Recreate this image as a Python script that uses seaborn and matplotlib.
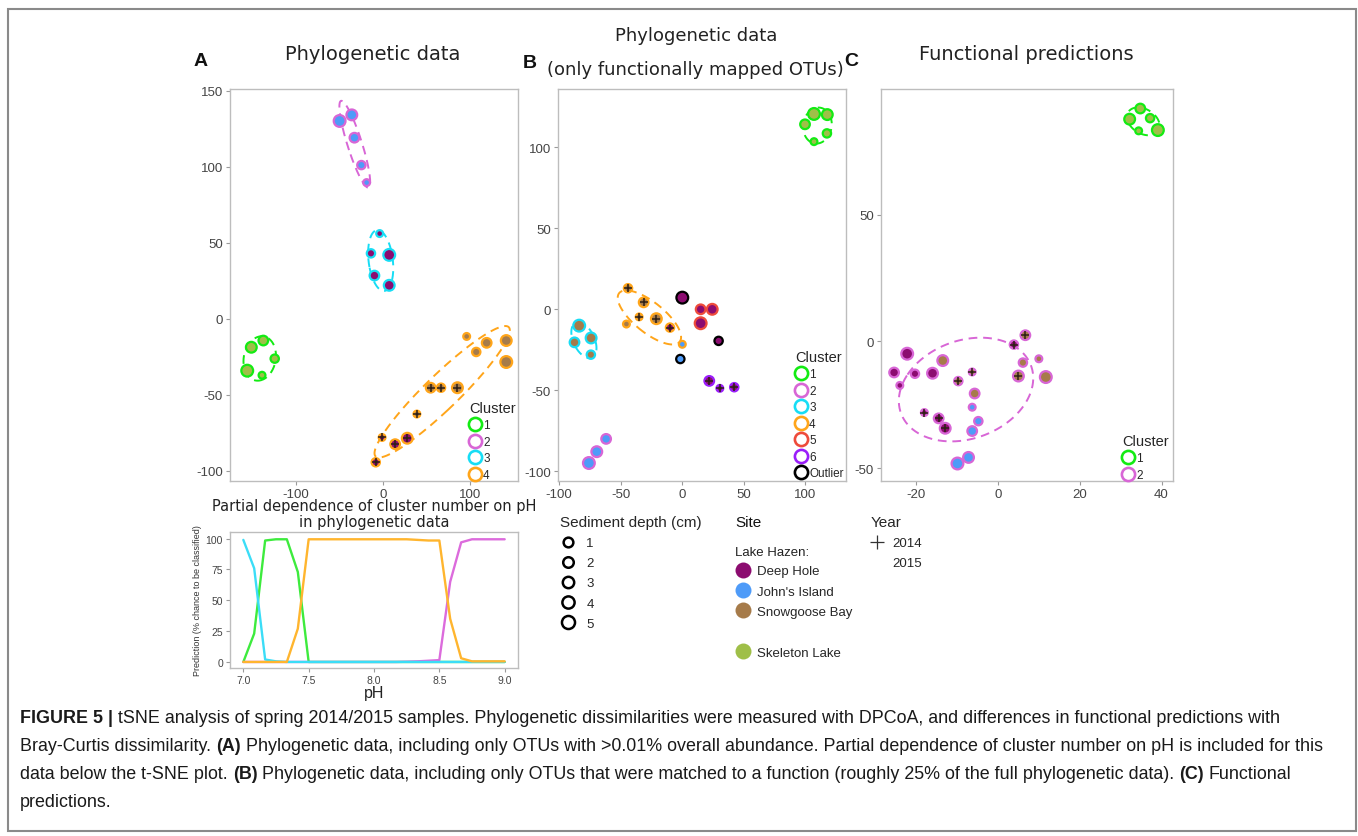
import numpy as np
import pandas as pd
import matplotlib
matplotlib.use("Agg")
import matplotlib.pyplot as plt
import seaborn as sns
from matplotlib.lines import Line2D
from matplotlib.patches import Rectangle

# ---- panel A: t-SNE on phylogenetic data ----
a_x = [-50, -36, -33, -25, -19,
       -4, -14, 7, -10, 7,
       -151.5, -137.7, -124.6, -156.2, -139.2,
       96, 107, 119, 141.5, 141.5,
       54.6, 66.5, 85.4, 38.8,
       -1.2, 13.8, 27.7, -8.5]
a_y = [130, 134, 119, 101, 89.5,
       56, 43, 42, 28.4, 22,
       -18.7, -14.3, -26.2, -34.1, -37.1,
       -11.6, -21.8, -15.8, -14.3, -28.4,
       -45.3, -45.3, -45.3, -62.6,
       -78, -82.4, -78.5, -94.3]
a_cluster = ["2", "2", "2", "2", "2",
             "3", "3", "3", "3", "3",
             "1", "1", "1", "1", "1",
             "4", "4", "4", "4", "4",
             "4", "4", "4", "4",
             "4", "4", "4", "4"]
a_site = ["JI", "JI", "JI", "JI", "JI",
          "DH", "DH", "DH", "DH", "DH",
          "SL", "SL", "SL", "SL", "SL",
          "SB", "SB", "SB", "SB", "SB",
          "SB", "SB", "SB", "SB",
          "DH", "DH", "DH", "DH"]
a_depth = [5, 4, 3, 2, 1,
           1, 2, 5, 3, 4,
           4, 3, 2, 5, 1,
           1, 2, 3, 4, 5,
           3, 2, 4, 1,
           1, 3, 4, 2]
a_year = [2015, 2015, 2015, 2015, 2015,
          2015, 2015, 2015, 2015, 2015,
          2015, 2015, 2015, 2015, 2015,
          2015, 2015, 2015, 2015, 2015,
          2014, 2014, 2014, 2014,
          2014, 2014, 2014, 2014]

# ---- panel B: only functionally mapped OTUs ----
b_x = [99.7, 107, 117.8, 117.5, 107,
       -83.8, -87.6, -74.1, -74.3,
       -44.1, -31.4, -35.1, -21.1,
       -45.4, -10, 0,
       0, 29.5, -1.6,
       14.9, 24.3, 14.9,
       21.9, 30.5, 42.2,
       -75.9, -69.5, -61.9]
b_y = [114.2, 120.6, 120.2, 108.6, 103.5,
       -10.1, -20.4, -17.7, -28,
       13, 4.3, -4.7, -5.8,
       -9.1, -11.3, -21.6,
       7.2, -19.5, -30.7,
       0, 0, -8.6,
       -44.2, -48.8, -48.1,
       -94.9, -87.9, -80]
b_cluster = ["1", "1", "1", "1", "1",
             "3", "3", "3", "3",
             "4", "4", "4", "4",
             "4", "4", "4",
             "O", "O", "O",
             "5", "5", "5",
             "6", "6", "6",
             "2", "2", "2"]
b_site = ["SL", "SL", "SL", "SL", "SL",
          "SB", "SB", "SB", "SB",
          "SB", "SB", "SB", "SB",
          "SB", "DH", "JI",
          "DH", "DH", "JI",
          "DH", "DH", "DH",
          "DH", "DH", "DH",
          "JI", "JI", "JI"]
b_depth = [3, 5, 4, 2, 1,
           5, 3, 4, 2,
           2, 3, 1, 4,
           1, 2, 1,
           5, 2, 2,
           3, 4, 5,
           3, 1, 2,
           5, 4, 3]
b_year = [2015, 2015, 2015, 2015, 2015,
          2015, 2015, 2015, 2015,
          2014, 2014, 2014, 2014,
          2015, 2014, 2015,
          2015, 2015, 2015,
          2015, 2015, 2015,
          2014, 2014, 2014,
          2015, 2015, 2015]

# ---- panel C: functional predictions ----
c_x = [32.2, 34.8, 37.2, 34.4, 39.1,
       -22.2, -25.4, -20.3, -16, -24,
       -13.5, -5.7, 6.1, 10, 11.7,
       6.7, -6.3, -9.7, 5.0,
       3.9, -18, -14.5, -12.9,
       -6.3, -4.8, -6.3, -7.2, -9.9]
c_y = [87.6, 91.8, 88, 83, 83.3,
       -4.9, -12.3, -12.8, -12.6, -17.4,
       -7.6, -20.6, -8.4, -6.9, -14.1,
       2.4, -12.1, -15.7, -13.7,
       -1.3, -28.1, -30.4, -34.3,
       -26, -31.5, -35.4, -45.8, -48.2]
c_cluster = ["1", "1", "1", "1", "1",
             "2", "2", "2", "2", "2",
             "2", "2", "2", "2", "2",
             "2", "2", "2", "2",
             "2", "2", "2", "2",
             "2", "2", "2", "2", "2"]
c_site = ["SL", "SL", "SL", "SL", "SL",
          "DH", "DH", "DH", "DH", "DH",
          "SB", "SB", "SB", "SB", "SB",
          "SB", "SB", "SB", "SB",
          "DH", "DH", "DH", "DH",
          "JI", "JI", "JI", "JI", "JI"]
c_depth = [4, 3, 2, 1, 5,
           5, 3, 2, 4, 1,
           4, 3, 2, 1, 5,
           3, 1, 2, 4,
           2, 1, 3, 4,
           1, 2, 3, 4, 5]
c_year = [2015, 2015, 2015, 2015, 2015,
          2015, 2015, 2015, 2015, 2015,
          2015, 2015, 2015, 2015, 2015,
          2014, 2014, 2014, 2014,
          2014, 2014, 2014, 2014,
          2015, 2015, 2015, 2015, 2015]

# ---- partial dependence of cluster on pH ----
ph = [7.0, 7.083, 7.167, 7.25, 7.333, 7.417, 7.5, 7.583, 7.667, 7.75, 7.833, 7.917, 8.0,
      8.083, 8.167, 8.25, 8.333, 8.417, 8.5, 8.583, 8.667, 8.75, 8.833, 8.917, 9.0]
pd_c1 = [0, 23, 98.5, 99.5, 99.5, 73, 0, 0, 0, 0, 0, 0, 0, 0, 0, 0, 0, 0, 0, 0, 0, 0, 0, 0, 0]
pd_c2 = [0, 0, 0, 0, 0, 0, 0, 0, 0, 0, 0, 0, 0, 0, 0, 0.2, 0.5, 1, 1.5, 65, 97, 99.5, 99.5, 99.5, 99.5]
pd_c3 = [99, 76, 2, 0.5, 0, 0, 0, 0, 0, 0, 0, 0, 0, 0, 0, 0, 0, 0, 0, 0, 0, 0, 0, 0, 0]
pd_c4 = [0, 0, 0, 0, 0, 27, 99.5, 99.5, 99.5, 99.5, 99.5, 99.5, 99.5, 99.5, 99.5, 99.5, 99,
         98.5, 98.5, 35, 3, 0.5, 0.5, 0.5, 0.5]

site_names = {"DH": "Deep Hole", "JI": "John's Island", "SB": "Snowgoose Bay", "SL": "Skeleton Lake"}
SITE_COLORS = {"DH": "#8C0C70", "JI": "#4E9BF8", "SB": "#A67B4A", "SL": "#9FBF48"}
CLUSTER_COLORS = {"1": "#13EB13", "2": "#D866D6", "3": "#17DDF5", "4": "#FFA51A",
                  "5": "#EE4B3B", "6": "#9A1EFA", "O": "#000000"}
PD_COLORS = {"1": "#3DEB3D", "2": "#DC6BDC", "3": "#3BDDF7", "4": "#FFB52E"}

W, H = 1358, 837
sns.set_theme(style="white")
plt.rcParams["font.family"] = ["Liberation Sans", "DejaVu Sans"]
plt.rcParams["axes.unicode_minus"] = False

fig = plt.figure(figsize=(W / 100, H / 100), dpi=100)


def fx(px):
    return px / W


def fy(py):
    return 1 - py / H


def axes_px(left, top, right, bottom):
    return fig.add_axes([fx(left), fy(bottom), (right - left) / W, (bottom - top) / H])


def style_axes(ax, labelsize=9.5):
    for sp in ax.spines.values():
        sp.set_color("#BDBDBD")
        sp.set_linewidth(1.0)
    ax.tick_params(axis="both", which="both", direction="out", length=3, width=0.8,
                   color="#9A9A9A", labelcolor="#444444", labelsize=labelsize, pad=2,
                   bottom=True, left=True)
    ax.grid(False)


def draw_ellipse(ax, x, y, color, scale):
    pts = np.column_stack([x, y])
    center = pts.mean(axis=0)
    vals, vecs = np.linalg.eigh(np.cov(pts, rowvar=False))
    t = np.linspace(0, 2 * np.pi, 200)
    unit = np.column_stack([np.cos(t), np.sin(t)])
    ell = center + scale * unit @ (vecs * np.sqrt(vals)).T
    ax.plot(ell[:, 0], ell[:, 1], color=color, lw=1.4, ls=(0, (4.5, 3)), zorder=2)


def tsne_panel(ax, x, y, cluster, site, depth, year, ell_scale):
    df = pd.DataFrame(dict(x=x, y=y, cluster=cluster, site=site, depth=depth, year=year))
    for cl, grp in df.groupby("cluster", sort=False):
        if len(grp) >= 4 and cl != "O":
            draw_ellipse(ax, grp["x"], grp["y"], CLUSTER_COLORS[cl], ell_scale)
    for cl, grp in df.groupby("cluster", sort=False):
        sns.scatterplot(data=grp, x="x", y="y", hue="site", palette=SITE_COLORS,
                        size="depth", sizes=(24, 72), size_norm=(1, 5),
                        edgecolor=CLUSTER_COLORS[cl], linewidth=1.6, legend=False,
                        ax=ax, zorder=3)
    sns.scatterplot(data=df[df["year"] == 2014], x="x", y="y", marker="+", color="#2E2015",
                    s=34, linewidth=1.1, legend=False, ax=ax, zorder=4)
    ax.set(xlabel="", ylabel="")
    style_axes(ax)


def cluster_legend(ax, labels, left, top):
    handles = [Line2D([], [], ls="none", marker="o", markersize=9.5, markerfacecolor="none",
                      markeredgecolor=CLUSTER_COLORS[k], markeredgewidth=1.9) for k in labels]
    names = ["Outlier" if k == "O" else k for k in labels]
    ax.legend(handles, names, title="Cluster", loc="upper left",
              bbox_to_anchor=(fx(left), fy(top)), bbox_transform=fig.transFigure,
              frameon=False, borderpad=0, borderaxespad=0, handlelength=1.0,
              handletextpad=0.2, labelspacing=0.38, fontsize=8.5, title_fontsize=10.5,
              alignment="left")


# panel A
ax_a = axes_px(230, 90, 518, 482)
tsne_panel(ax_a, a_x, a_y, a_cluster, a_site, a_depth, a_year, 1.5)
ax_a.set_xlim(-176, 155)
ax_a.set_ylim(-106.6, 151)
ax_a.set_xticks([-100, 0, 100])
ax_a.set_yticks([-100, -50, 0, 50, 100, 150])
cluster_legend(ax_a, ["1", "2", "3", "4"], 469, 402)

# panel B
ax_b = axes_px(558, 90, 846, 482)
tsne_panel(ax_b, b_x, b_y, b_cluster, b_site, b_depth, b_year, 1.5)
ax_b.set_xlim(-101, 133)
ax_b.set_ylim(-106, 136)
ax_b.set_xticks([-100, -50, 0, 50, 100])
ax_b.set_yticks([-100, -50, 0, 50, 100])
cluster_legend(ax_b, ["1", "2", "3", "4", "5", "6", "O"], 795, 351)

# panel C
ax_c = axes_px(881, 90, 1173, 482)
tsne_panel(ax_c, c_x, c_y, c_cluster, c_site, c_depth, c_year, 1.5)
ax_c.set_xlim(-28.6, 42.8)
ax_c.set_ylim(-55.1, 99.5)
ax_c.set_xticks([-20, 0, 20, 40])
ax_c.set_yticks([-50, 0, 50])
cluster_legend(ax_c, ["1", "2"], 1122, 435)

# partial dependence panel
ax_p = axes_px(230, 533, 518, 669)
pdf = pd.DataFrame({"pH": ph * 4,
                    "prediction": pd_c1 + pd_c2 + pd_c3 + pd_c4,
                    "cluster": ["1"] * len(ph) + ["2"] * len(ph) + ["3"] * len(ph) + ["4"] * len(ph)})
sns.lineplot(data=pdf, x="pH", y="prediction", hue="cluster", palette=PD_COLORS,
             linewidth=1.7, legend=False, ax=ax_p)
style_axes(ax_p, labelsize=7.5)
ax_p.set_xlim(6.898, 9.102)
ax_p.set_ylim(-4.9, 105.4)
ax_p.set_xticks([7.0, 7.5, 8.0, 8.5, 9.0])
ax_p.set_xticklabels(["7.0", "7.5", "8.0", "8.5", "9.0"])
ax_p.set_yticks([0, 25, 50, 75, 100])
ax_p.set_xlabel("pH", fontsize=11.5, color="#222222", labelpad=0)
ax_p.set_ylabel("Prediction (% chance to be classified)", fontsize=6.5, color="#333333", labelpad=3)

# titles and panel letters
title_kw = dict(family="DejaVu Sans", color="#222222", ha="center", va="center")
fig.text(fx(373), fy(55), "Phylogenetic data", fontsize=14, **title_kw)
fig.text(fx(696), fy(36), "Phylogenetic data", fontsize=13, **title_kw)
fig.text(fx(695), fy(70), "(only functionally mapped OTUs)", fontsize=13, **title_kw)
fig.text(fx(1026), fy(55), "Functional predictions", fontsize=14, **title_kw)
fig.text(fx(374), fy(506), "Partial dependence of cluster number on pH", family="DejaVu Sans",
         fontsize=10.5, color="#222222", ha="center", va="center")
fig.text(fx(374), fy(523), "in phylogenetic data", family="DejaVu Sans",
         fontsize=10.5, color="#222222", ha="center", va="center")
for letter, px, py in [("A", 201, 62), ("B", 530, 64), ("C", 851, 62)]:
    fig.text(fx(px), fy(py), letter, fontsize=14, weight="bold", ha="center", va="center",
             color="#111111")

# shared legends below panel B
depth_handles = [Line2D([], [], ls="none", marker="o", markersize=ms, markerfacecolor="none",
                        markeredgecolor="black", markeredgewidth=1.8)
                 for ms in (7, 7.6, 8.2, 8.8, 9.4)]
fig.legend(depth_handles, ["1", "2", "3", "4", "5"], title="Sediment depth (cm)",
           loc="upper left", bbox_to_anchor=(fx(560), fy(516)), frameon=False, borderpad=0,
           borderaxespad=0, fontsize=9.5, title_fontsize=11, labelspacing=0.6,
           handlelength=1.2, handletextpad=0.8, alignment="left")

fig.text(fx(735), fy(523), "Site", fontsize=11, ha="left", va="center", color="#111111")
fig.text(fx(735), fy(553), "Lake Hazen:", fontsize=9.5, ha="left", va="center", color="#222222")
site_order = ["DH", "JI", "SB", None, "SL"]
site_handles = [Line2D([], [], ls="none", marker="o", markersize=11.5,
                       markerfacecolor=SITE_COLORS[k], markeredgecolor="none")
                if k else Line2D([], [], ls="none") for k in site_order]
fig.legend(site_handles, [site_names[k] if k else " " for k in site_order],
           loc="upper left", bbox_to_anchor=(fx(735), fy(566)), frameon=False, borderpad=0,
           borderaxespad=0, fontsize=9.5, labelspacing=0.62, handlelength=1.2,
           handletextpad=0.5)

year_handles = [Line2D([], [], ls="none", marker="+", markersize=10, markeredgewidth=0.9,
                       color="#333333"),
                Line2D([], [], ls="none")]
fig.legend(year_handles, ["2014", "2015"], title="Year", loc="upper left",
           bbox_to_anchor=(fx(871), fy(516)), frameon=False, borderpad=0, borderaxespad=0,
           fontsize=9.5, title_fontsize=11, labelspacing=0.6, handlelength=0.9,
           handletextpad=0.7, alignment="left")

# caption with bold run-ins
caption_lines = [
    [("FIGURE 5 |", True), ("tSNE analysis of spring 2014/2015 samples. Phylogenetic dissimilarities were "
                             "measured with DPCoA, and differences in functional predictions with", False)],
    [("Bray-Curtis dissimilarity.", False), ("(A)", True),
     ("Phylogenetic data, including only OTUs with >0.01% overall abundance. Partial dependence of "
      "cluster number on pH is included for this", False)],
    [("data below the t-SNE plot.", False), ("(B)", True),
     ("Phylogenetic data, including only OTUs that were matched to a function (roughly 25% of the "
      "full phylogenetic data).", False), ("(C)", True), ("Functional", False)],
    [("predictions.", False)],
]
cap_size = 12.9
renderer = fig.canvas.get_renderer()
probe_a = fig.text(0, 0, "xx", fontsize=cap_size)
probe_b = fig.text(0, 0, "x x", fontsize=cap_size)
space_w = probe_b.get_window_extent(renderer).width - probe_a.get_window_extent(renderer).width
probe_a.remove()
probe_b.remove()
for line, ypx in zip(caption_lines, [719, 747, 775, 803]):
    xpx = 20
    for text, bold in line:
        t = fig.text(fx(xpx), fy(ypx), text, fontsize=cap_size, ha="left", va="center",
                     weight="bold" if bold else "normal", color="#1A1A1A")
        xpx += t.get_window_extent(renderer).width + space_w

fig.patches.append(Rectangle((fx(7.5), fy(832)), (1355.5 - 7.5) / W, (832 - 10) / H,
                             transform=fig.transFigure, fill=False, edgecolor="#8A8A8A",
                             linewidth=1.5))

fig.savefig("out.png", dpi=100)
